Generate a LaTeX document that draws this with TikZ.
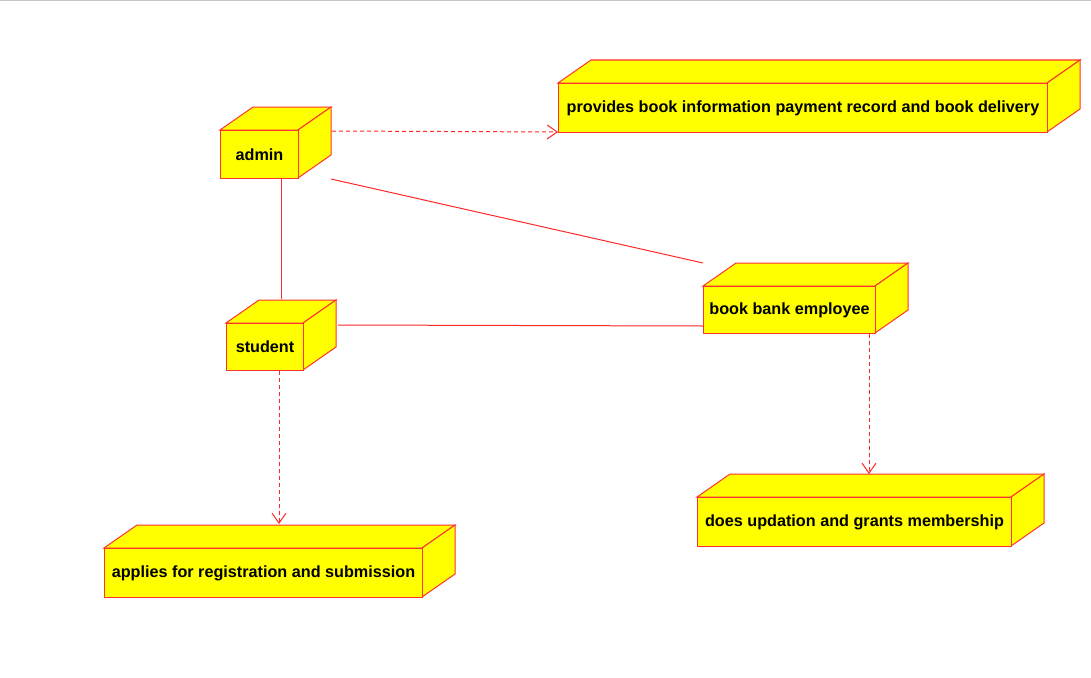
\documentclass[tikz,border=0pt]{standalone}
\usepackage{fontspec}
\setmainfont{Liberation Sans}
\usetikzlibrary{calc,arrows.meta}
\definecolor{cubeyellow}{RGB}{255,255,0}
\definecolor{cubered}{RGB}{255,50,50}
\definecolor{linered}{RGB}{255,40,40}
\tikzset{
  cube/.style={draw=cubered, line width=1pt, fill=cubeyellow, inner sep=0pt,
    font=\fontsize{16.2}{19}\selectfont\bfseries, text=black},
  cubeface/.style={draw=cubered, line width=1pt, fill=cubeyellow, line join=miter},
  assoc/.style={draw=linered, line width=1pt},
  dep/.style={draw=linered, line width=1pt, dash pattern=on 4pt off 3pt,
    -{Straight Barb[length=10pt,width=14pt,line width=1pt]}},
}
\newcommand\cubenode[6]{%
  \filldraw[cubeface] ($(#2pt,-#3pt)+(0,0)$) -- ++(33pt,23pt) -- ++(#4pt,0) -- ++(-33pt,-23pt) -- cycle;
  \filldraw[cubeface] ($(#2pt,-#3pt)+(#4pt,0)$) -- ++(33pt,23pt) -- ++(0,-#5pt) -- ++(-33pt,-23pt) -- cycle;
  \node[cube, minimum width=#4pt, minimum height=#5pt, anchor=north west] (#1) at (#2pt,-#3pt) {#6};
}
\begin{document}
\begin{tikzpicture}
\useasboundingbox (0,0) rectangle (1091pt,-677pt);
\fill[white] (0,0) rectangle (1091pt,-677pt);
\draw[gray!45, line width=1pt] (0,-0.5pt) -- (1091pt,-0.5pt);

\cubenode{admin}{220}{130}{78}{48}{admin}
\cubenode{provides}{558}{83}{489}{49}{provides book information payment record and book delivery}
\cubenode{student}{226}{323}{77}{47}{student}
\cubenode{employee}{703}{286}{172}{47}{book bank employee}
\cubenode{does}{697}{497}{314}{49}{does updation and grants membership}
\cubenode{applies}{104}{548}{318}{49}{applies for registration and submission}

% admin -> provides
\draw[dep] ($(admin.north east)+(33pt,-1pt)$) -- ($(provides.south west)+(0,1pt)$);
% admin -- employee
\draw[assoc] ($(admin.south east)+(32pt,0)$) -- ($(employee.north west)+(0,23pt)$);
% admin -- student
\draw[assoc] ($(admin.south west)+(61pt,0)$) -- ($(student.north west)+(55pt,24pt)$);
% student -- employee
\draw[assoc] ($(student.north east)+(34pt,-2pt)$) -- ($(employee.south west)+(0,8pt)$);
% student -> applies
\draw[dep] ($(student.south west)+(53pt,0)$) -- ($(applies.north west)+(175pt,24pt)$);
% employee -> does
\draw[dep] ($(employee.south west)+(166pt,0)$) -- ($(does.north west)+(172pt,23pt)$);
\end{tikzpicture}
\end{document}
